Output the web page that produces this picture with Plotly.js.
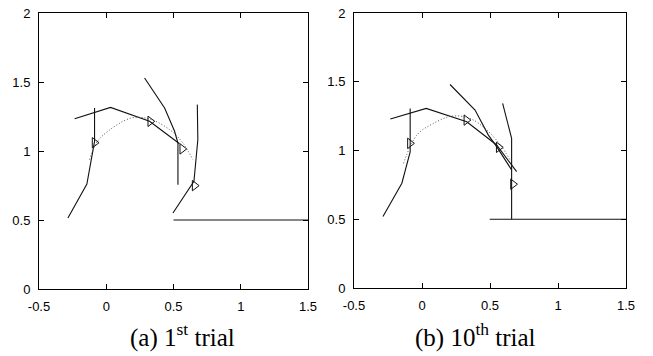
<!DOCTYPE html>
<html>
<head>
<meta charset="utf-8">
<script src="https://cdn.plot.ly/plotly-3.0.1.min.js"></script>
<style>html,body{margin:0;padding:0;background:#fff;}#chart{width:653px;height:356px;}</style>
</head>
<body>
<div id="chart"></div>
<script>
// ---- tick labels ----
const xTickVals = [-0.5, 0, 0.5, 1, 1.5];
const xTickText = ['-0.5', '0', '0.5', '1', '1.5'];
const yTickVals = [0, 0.5, 1, 1.5, 2];
const yTickText = ['0', '0.5', '1', '1.5', '2'];
const captions = ['(a) 1<sup>st</sup> trial', '(b) 10<sup>th</sup> trial'];

// ---- panel (a): 1st trial ----
const aBodyX = [-0.235, 0.032, 0.322, 0.545];
const aBodyY = [1.234, 1.316, 1.215, 1.053];
const aLeg1X = [-0.087, -0.087, -0.144, -0.285];
const aLeg1Y = [1.312, 1.070, 0.761, 0.514];
const aLeg2X = [0.285, 0.434, 0.508, 0.533, 0.533];
const aLeg2Y = [1.529, 1.312, 1.143, 1.058, 0.756];
const aLeg3X = [0.677, 0.681, 0.652, 0.496];
const aLeg3Y = [1.336, 1.082, 0.780, 0.551];
const aFloorX = [0.5, 1.5];
const aFloorY = [0.5, 0.5];
const aPathX = [-0.124, -0.074, 0.012, 0.186, 0.322, 0.471, 0.570, 0.644];
const aPathY = [0.937, 1.058, 1.143, 1.239, 1.232, 1.155, 1.058, 0.937];
const aMarkX = [-0.087, 0.327, 0.565, 0.657];
const aMarkY = [1.060, 1.215, 1.015, 0.749];

// ---- panel (b): 10th trial ----
const bBodyX = [-0.233, 0.031, 0.329, 0.549, 0.696];
const bBodyY = [1.229, 1.306, 1.209, 1.040, 0.846];
const bLeg1X = [-0.087, -0.087, -0.087, -0.148, -0.287];
const bLeg1Y = [1.306, 1.076, 0.990, 0.762, 0.520];
const bLeg2X = [0.206, 0.390, 0.488, 0.549, 0.659];
const bLeg2Y = [1.480, 1.294, 1.112, 1.028, 0.859];
const bLeg3X = [0.593, 0.627, 0.659, 0.659];
const bLeg3Y = [1.342, 1.221, 1.088, 0.500];
const bFloorX = [0.498, 1.5];
const bFloorY = [0.5, 0.5];
const bPathX = [-0.136, -0.038, 0.084, 0.219, 0.353, 0.476, 0.586, 0.647];
const bPathY = [0.907, 1.112, 1.197, 1.250, 1.233, 1.149, 1.028, 0.931];
const bMarkX = [-0.089, 0.326, 0.564, 0.669];
const bMarkY = [1.052, 1.221, 1.023, 0.755];

function solid(x, y, xa, ya) {
  return {x: x, y: y, xaxis: xa, yaxis: ya, mode: 'lines', type: 'scatter',
    line: {color: '#111', width: 1.1}, showlegend: false, hoverinfo: 'skip'};
}
function dotted(x, y, xa, ya) {
  return {x: x, y: y, xaxis: xa, yaxis: ya, mode: 'lines', type: 'scatter',
    line: {color: '#555', width: 1, dash: '1px,2px', shape: 'spline'}, showlegend: false, hoverinfo: 'skip'};
}
function marks(x, y, xa, ya) {
  return {x: x, y: y, xaxis: xa, yaxis: ya, mode: 'markers', type: 'scatter',
    marker: {symbol: 'triangle-right-open', size: 9, color: '#111', line: {width: 1, color: '#111'}},
    showlegend: false, hoverinfo: 'skip'};
}

const data = [
  solid(aBodyX, aBodyY, 'x', 'y'), solid(aLeg1X, aLeg1Y, 'x', 'y'),
  solid(aLeg2X, aLeg2Y, 'x', 'y'), solid(aLeg3X, aLeg3Y, 'x', 'y'),
  solid(aFloorX, aFloorY, 'x', 'y'), dotted(aPathX, aPathY, 'x', 'y'),
  marks(aMarkX, aMarkY, 'x', 'y'),
  solid(bBodyX, bBodyY, 'x2', 'y2'), solid(bLeg1X, bLeg1Y, 'x2', 'y2'),
  solid(bLeg2X, bLeg2Y, 'x2', 'y2'), solid(bLeg3X, bLeg3Y, 'x2', 'y2'),
  solid(bFloorX, bFloorY, 'x2', 'y2'), dotted(bPathX, bPathY, 'x2', 'y2'),
  marks(bMarkX, bMarkY, 'x2', 'y2')
];

const W = 653, H = 356;
const tickFont = {family: 'Liberation Sans, Arial, sans-serif', size: 13, color: '#000'};
function xax(d0, d1, anchor) {
  return {domain: [d0 / W, d1 / W], range: [-0.5, 1.5], anchor: anchor,
    tickmode: 'array', tickvals: xTickVals, ticktext: xTickText,
    ticks: 'inside', ticklen: 5, tickcolor: '#000', tickwidth: 1,
    ticklabelstandoff: 5,
    showline: true, linecolor: '#000', linewidth: 1, mirror: 'ticks',
    showgrid: false, zeroline: false, tickfont: tickFont, fixedrange: true};
}
function yax(top, bot, anchor) {
  return {domain: [(H - bot) / H, (H - top) / H], range: [0, 2], anchor: anchor,
    tickmode: 'array', tickvals: yTickVals, ticktext: yTickText,
    ticks: 'inside', ticklen: 5, tickcolor: '#000', tickwidth: 1,
    ticklabelstandoff: 5,
    showline: true, linecolor: '#000', linewidth: 1, mirror: 'ticks',
    showgrid: false, zeroline: false, tickfont: tickFont, fixedrange: true};
}

const capFont = {family: 'Liberation Serif, Times New Roman, serif', size: 25, color: '#000'};
const layout = {
  width: W, height: H,
  margin: {l: 0, r: 0, t: 0, b: 0},
  paper_bgcolor: '#fff', plot_bgcolor: '#fff',
  showlegend: false,
  xaxis: xax(39, 308, 'y'),
  yaxis: yax(13, 289, 'x'),
  xaxis2: xax(354, 626, 'y2'),
  yaxis2: yax(13, 288, 'x2'),
  annotations: [
    {text: captions[0], xref: 'paper', yref: 'paper', x: 182 / W, y: (H - 335) / H,
      xanchor: 'center', yanchor: 'middle', showarrow: false, font: capFont},
    {text: captions[1], xref: 'paper', yref: 'paper', x: 475 / W, y: (H - 335) / H,
      xanchor: 'center', yanchor: 'middle', showarrow: false, font: capFont}
  ]
};

Plotly.newPlot('chart', data, layout, {staticPlot: true, displayModeBar: false});
</script>
</body>
</html>
